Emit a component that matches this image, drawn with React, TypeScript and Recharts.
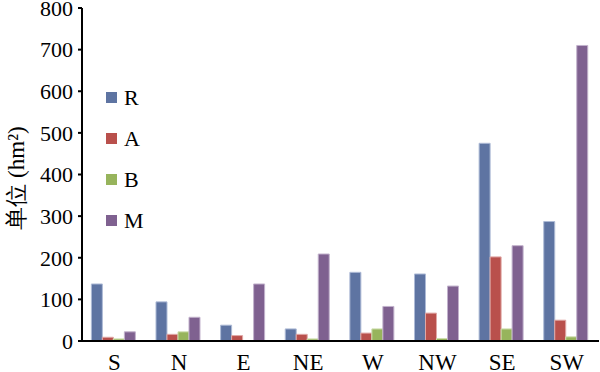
import { Bar, BarChart, Legend, XAxis, YAxis } from 'recharts';

const categories = ['S', 'N', 'E', 'NE', 'W', 'NW', 'SE', 'SW'];
const rValues = [137, 94, 38, 29, 165, 161, 475, 287];
const aValues = [9, 16, 13, 16, 19, 67, 202, 50];
const bValues = [5, 22, -4, 5, 29, 6, 29, 10];
const mValues = [22, 57, 137, 209, 83, 132, 229, 710];
const yTicks = [0, 100, 200, 300, 400, 500, 600, 700, 800];
const edgeTicks = [0, 1, 2, 3, 4, 5, 6, 7, 8];

const data = categories.map((name, i) => ({
  name,
  R: rValues[i],
  A: aValues[i],
  B: bValues[i],
  M: mValues[i],
}));

const series = [
  { key: 'R', fill: '#5E74A2', stroke: '#AEBBD6' },
  { key: 'A', fill: '#B9504C', stroke: '#E0A8A6' },
  { key: 'B', fill: '#97B45C', stroke: '#CDDDAE' },
  { key: 'M', fill: '#7F6190', stroke: '#C2B2CC' },
];
const order = series.map((s) => s.key);

const font = "'Liberation Serif', serif";

function LegendBox({ payload }: any) {
  const items = [...(payload || [])].sort(
    (a: any, b: any) => order.indexOf(a.dataKey) - order.indexOf(b.dataKey),
  );
  return (
    <div style={{ fontFamily: font, fontSize: 22, color: '#000' }}>
      {items.map((p: any) => (
        <div key={p.value} style={{ display: 'flex', alignItems: 'center', height: 41 }}>
          <span style={{ display: 'inline-block', width: 11, height: 11, background: p.color, marginRight: 7 }} />
          <span>{p.value}</span>
        </div>
      ))}
    </div>
  );
}

function YLabel() {
  return (
    <text
      transform="translate(24,178) rotate(-90)"
      textAnchor="middle"
      style={{ fontFamily: font, fontSize: 23 }}
      fill="#000"
    >
      单位 (hm²)
    </text>
  );
}

const xTick = { fill: '#000', fontSize: 23, fontFamily: font };
const yTick = { fill: '#000', fontSize: 22, fontFamily: font };

export default function App() {
  return (
    <div style={{ position: 'absolute', left: 0, top: 0, background: '#fff', fontFamily: font }}>
      <BarChart
        width={600}
        height={372}
        data={data}
        margin={{ top: 8, right: 1, bottom: 0, left: 0 }}
        barCategoryGap="14.5%"
        barGap={0}
        style={{ fontFamily: font }}
      >
        <XAxis
          xAxisId="edge"
          type="number"
          domain={[0, 8]}
          ticks={edgeTicks}
          tick={false}
          axisLine={false}
          tickLine={{ stroke: '#000', strokeWidth: 2 }}
          tickSize={5}
          height={0}
        />
        <XAxis
          xAxisId="cat"
          dataKey="name"
          tickLine={false}
          axisLine={{ stroke: '#000', strokeWidth: 2 }}
          tick={xTick}
          tickSize={6}
          tickMargin={7}
          height={31}
          interval={0}
        />
        <YAxis
          domain={[0, 800]}
          ticks={yTicks}
          interval={0}
          allowDataOverflow
          width={82}
          axisLine={{ stroke: '#000', strokeWidth: 2 }}
          tickLine={{ stroke: '#000', strokeWidth: 2 }}
          tickSize={4}
          tickMargin={5}
          tick={yTick}
          label={<YLabel />}
        />
        <Legend
          layout="horizontal"
          verticalAlign="middle"
          align="center"
          content={<LegendBox />}
          wrapperStyle={{ left: 106, top: 77, width: 60 }}
        />
        {series.map((s) => (
          <Bar
            key={s.key}
            xAxisId="cat"
            dataKey={s.key}
            fill={s.fill}
            stroke={s.stroke}
            strokeWidth={1}
            isAnimationActive={false}
          />
        ))}
      </BarChart>
    </div>
  );
}
